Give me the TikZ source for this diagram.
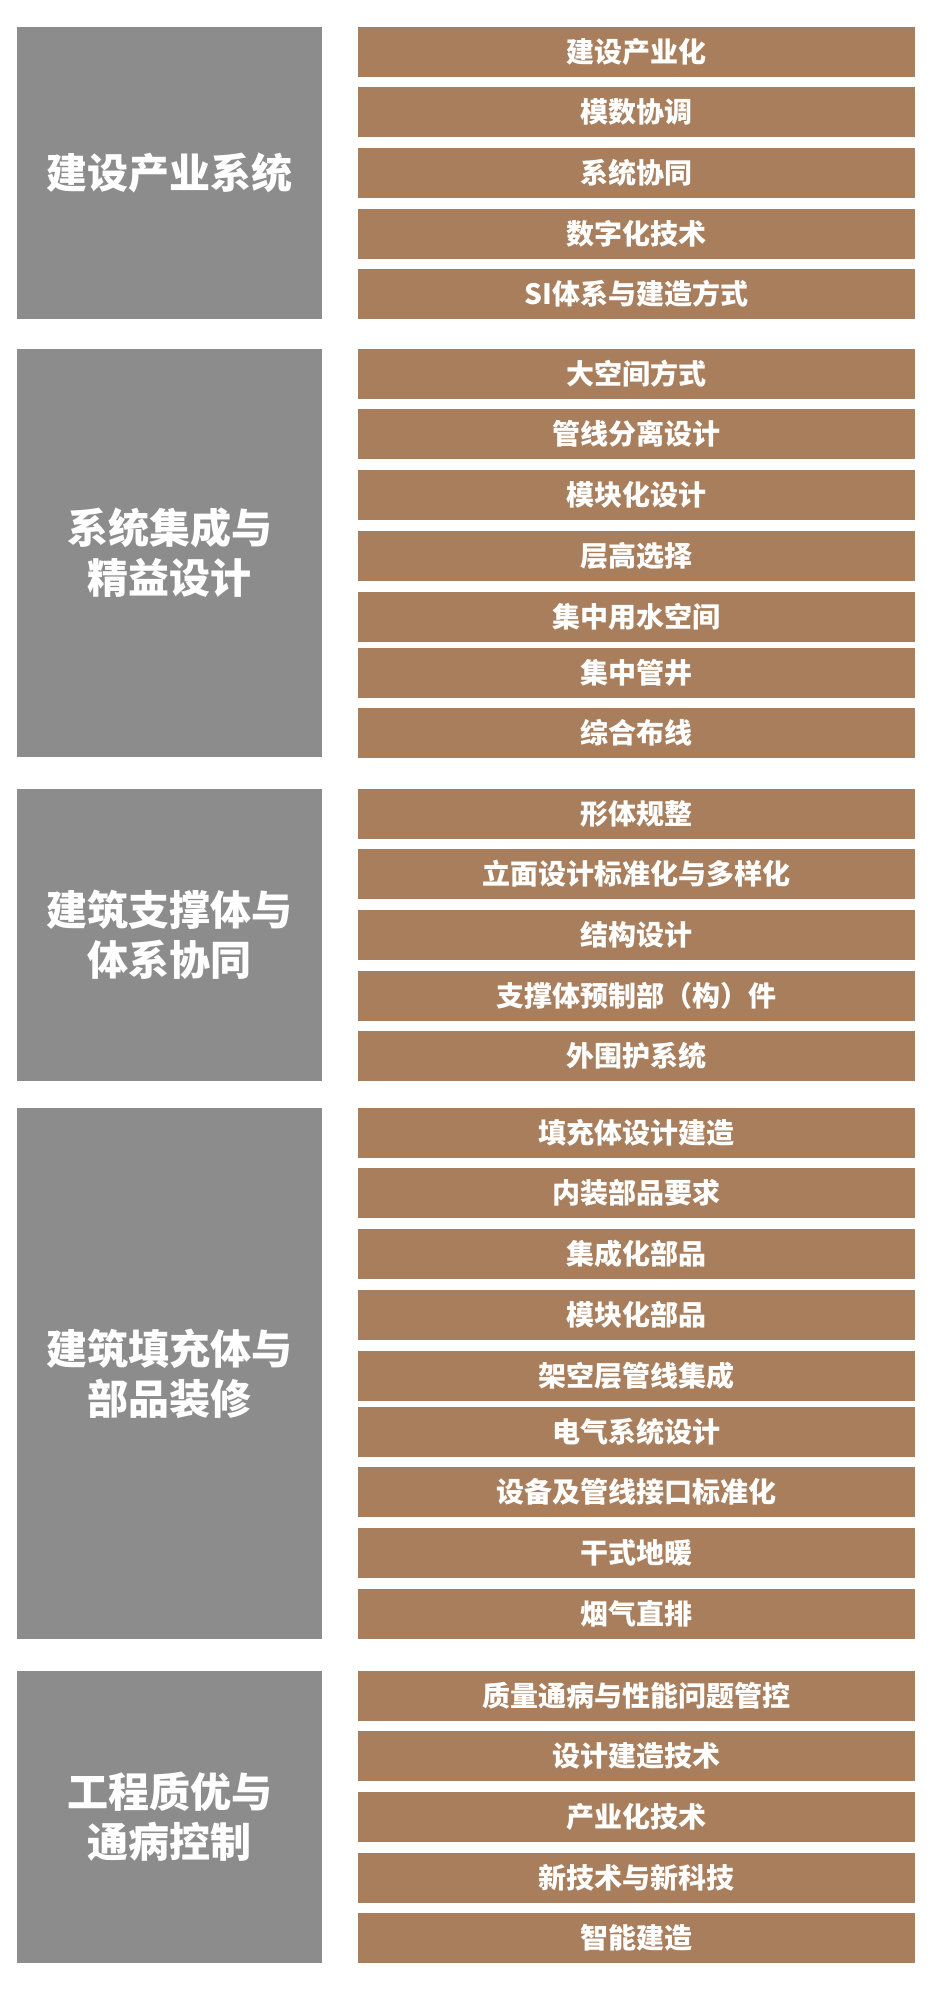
\documentclass[tikz,border=0pt]{standalone}
\usepackage{fontspec}
\newfontfamily\cjk{Noto Sans CJK SC}
\usepackage{tikz}
\definecolor{grpfill}{HTML}{8C8C8C}
\definecolor{itmfill}{HTML}{A87E5C}
\tikzset{
  grp/.style={fill=grpfill, text=white, inner sep=0pt, outer sep=0pt, minimum width=152.5pt,
    align=center, font=\cjk\bfseries\fontsize{20.5pt}{25pt}\selectfont},
  itm/.style={fill=itmfill, text=white, inner sep=0pt, outer sep=0pt, minimum width=278.5pt,
    minimum height=25pt, font=\cjk\bfseries\fontsize{14pt}{16pt}\selectfont}
}
\begin{document}
\begin{tikzpicture}[x=0.5pt,y=-0.5pt]
  \fill[white] (0,0) rectangle (933,2000);
  \useasboundingbox (0,0) rectangle (933,2000);

  % left column
  \node[grp, minimum height=146pt]   (g1) at (169.5,173) {建设产业系统};
  \node[grp, minimum height=204pt]   (g2) at (169.5,553) {系统集成与\\精益设计};
  \node[grp, minimum height=146pt]   (g3) at (169.5,935) {建筑支撑体与\\体系协同};
  \node[grp, minimum height=265.5pt] (g4) at (169.5,1373.5) {建筑填充体与\\部品装修};
  \node[grp, minimum height=146pt]   (g5) at (169.5,1817) {工程质优与\\通病控制};

  % right column
  \foreach \t/\txt [count=\i] in {
      27/建设产业化, 87/模数协调, 148/系统协同, 209/数字化技术, 269/SI体系与建造方式,
      349/大空间方式, 409/管线分离设计, 470/模块化设计, 531/层高选择, 592/集中用水空间,
      648/集中管井, 708/综合布线,
      789/形体规整, 849/立面设计标准化与多样化, 910/结构设计, 971/支撑体预制部（构）件,
      1031/外围护系统,
      1108/填充体设计建造, 1168/内装部品要求, 1229/集成化部品, 1290/模块化部品,
      1351/架空层管线集成, 1407/电气系统设计, 1467/设备及管线接口标准化, 1528/干式地暖,
      1589/烟气直排,
      1671/质量通病与性能问题管控, 1731/设计建造技术, 1792/产业化技术, 1853/新技术与新科技,
      1913/智能建造}
    \node[itm] (b\i) at (636.5,\t+25) {\txt};
\end{tikzpicture}
\end{document}
